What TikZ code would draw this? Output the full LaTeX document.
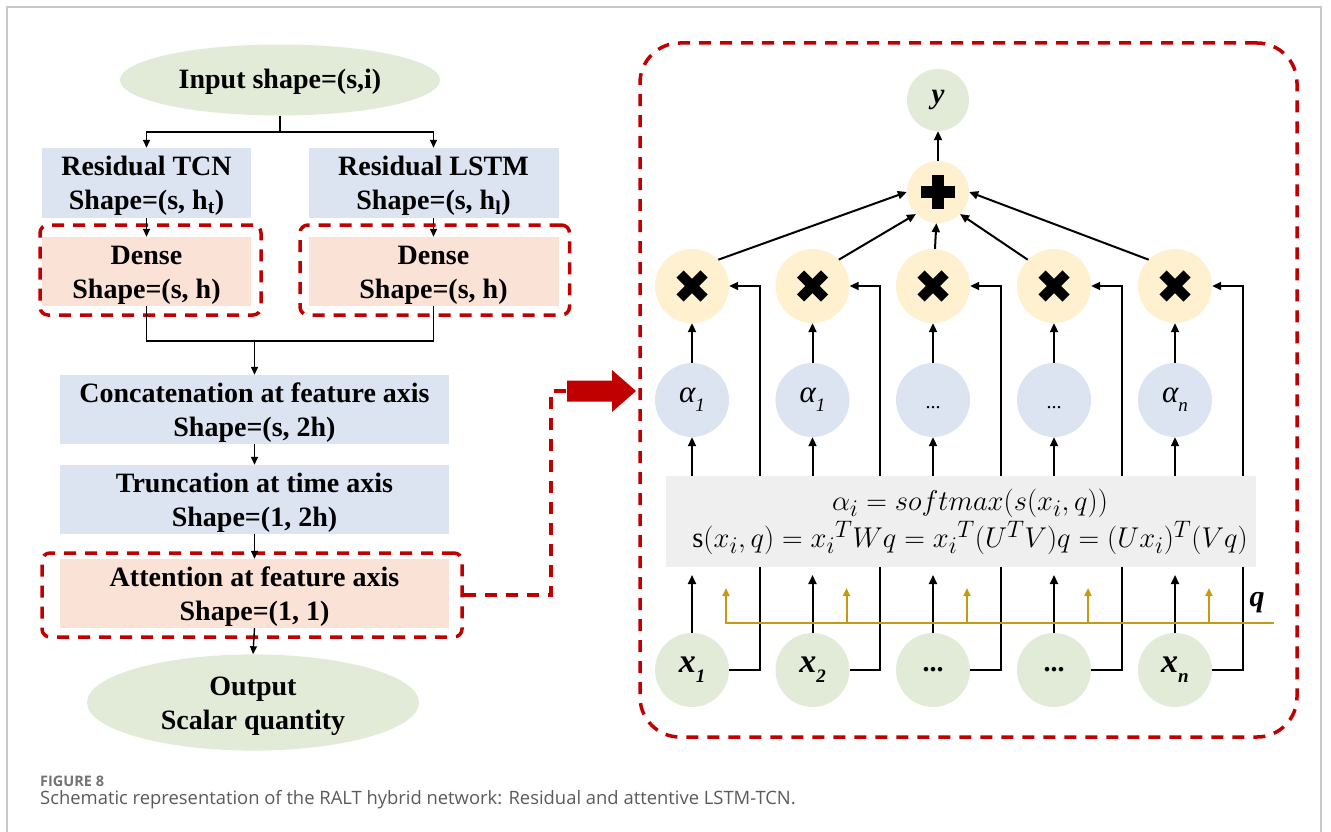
\documentclass[tikz,border=0pt]{standalone}
\usepackage{graphicx}
\usepackage{fontspec}
\setmainfont{Liberation Serif}
\newfontfamily\capfont{Open Sans}
\usetikzlibrary{arrows.meta,shapes.geometric,calc}
\definecolor{cgreen}{HTML}{E2EBD7}
\definecolor{cblue}{HTML}{DCE4F2}
\definecolor{cpink}{HTML}{FBE2D7}
\definecolor{cyel}{HTML}{FFF1CF}
\definecolor{cgray}{HTML}{EFEFEF}
\definecolor{cred}{HTML}{C00000}
\definecolor{cgold}{HTML}{C49A12}
\definecolor{cframe}{HTML}{C8C8C8}
\definecolor{ccap}{HTML}{5A5A5A}
\newcommand\lsub[1]{\raisebox{-0.3em}{\fontsize{19}{19}\selectfont #1}}
% two centred lines, nudged down a little inside their box
\newcommand\twoline[2]{\raisebox{-3pt}[\height][\depth]{\begin{tabular}{@{}c@{}}#1\\#2\end{tabular}}}
\newcommand\oneline[1]{\raisebox{-2pt}[\height][\depth]{#1}}
\tikzset{
  txt/.style={font=\fontsize{28}{34}\selectfont\bfseries, align=center, inner sep=0pt},
  bluebox/.style={txt, rectangle, fill=cblue},
  pinkbox/.style={txt, rectangle, fill=cpink},
  oval/.style={txt, ellipse, fill=cgreen},
  reddash/.style={draw=cred, line width=3.5pt, dash pattern=on 12pt off 9pt},
  lnL/.style={draw=black, line width=1.4pt},
  arrL/.style={lnL, -{Triangle[length=8pt,width=7pt]}},
  lnR/.style={draw=black, line width=2pt},
  arrR/.style={lnR, -{Triangle[length=9pt,width=8pt]}},
  goldln/.style={draw=cgold, line width=2pt},
  goldarr/.style={goldln, -{Triangle[length=8pt,width=7pt]}},
  ball/.style={circle, minimum size=74pt, inner sep=0pt},
  alphaball/.style={ball, fill=cblue, font=\fontsize{31}{31}\selectfont\itshape},
  xball/.style={ball, fill=cgreen, font=\fontsize{34}{34}\selectfont\bfseries\itshape},
  mulball/.style={ball, fill=cyel},
  symbolstroke/.style={draw=black, line cap=butt},
}
\begin{document}
\begin{tikzpicture}[x=1pt,y=-1pt]
\useasboundingbox (0,0) rectangle (1331,832);
% thin page frame
\draw[cframe, line width=1.2pt] (7,832) -- (7,7) -- (1321,7) -- (1321,832);

% ---------------- left: network pipeline ----------------
\node[oval, minimum width=320pt, minimum height=71pt] (inp) at (280,80) {\oneline{Input shape=(s,i)}};
\node[bluebox, minimum width=209pt, minimum height=70pt] (tcn) at (146.5,183) {\twoline{Residual TCN}{Shape=(s, h\textsubscript{t})}};
\node[bluebox, minimum width=250pt, minimum height=70pt] (lstm) at (433.5,183) {\twoline{Residual LSTM}{Shape=(s, h\textsubscript{l})}};
\node[pinkbox, minimum width=209pt, minimum height=69pt] (dn1) at (146.5,271.5) {\twoline{Dense}{Shape=(s, h)}};
\node[pinkbox, minimum width=250pt, minimum height=69pt] (dn2) at (433.5,271.5) {\twoline{Dense}{Shape=(s, h)}};
\node[reddash, rectangle, rounded corners=8pt, minimum width=221pt, minimum height=90pt] (dd1) at (150.5,270) {};
\node[reddash, rectangle, rounded corners=8pt, minimum width=269.5pt, minimum height=90pt] (dd2) at (434.75,270) {};
\node[bluebox, minimum width=389pt, minimum height=69pt] (cat) at (254.5,409.5) {\twoline{Concatenation at feature axis}{Shape=(s, 2h)}};
\node[bluebox, minimum width=389pt, minimum height=69pt] (trn) at (254.5,499.5) {\twoline{Truncation at time axis}{Shape=(1, 2h)}};
\node[pinkbox, minimum width=389pt, minimum height=69pt] (att) at (254.5,593.5) {\twoline{Attention at feature axis}{Shape=(1, 1)}};
\node[reddash, rectangle, rounded corners=8pt, minimum width=420pt, minimum height=84pt] (attd) at (252,595) {};
\node[oval, minimum width=332pt, minimum height=71pt] (out) at (253,702.5) {\twoline{Output}{Scalar quantity}};

\coordinate (br) at (280,132);
\draw[lnL] (inp.south) -- (br);
\draw[arrL] (br) -| (tcn.north);
\draw[arrL] (br) -| (lstm.north);
\draw[arrL] (tcn.south) -- (dn1.north);
\draw[arrL] (lstm.south) -- (dn2.north);
\coordinate (mg) at (254.5,341);
\draw[lnL] (dn1.south) |- (mg) -| (dn2.south);
\draw[arrL] (mg) -- (cat.north);
\draw[arrL] (cat.south) -- (trn.north);
\draw[arrL] (trn.south) -- (att.north);
\draw[arrL] (att.south) -- (out.north);

% ---------------- right: attention detail ----------------
\node[reddash, rectangle, rounded corners=40pt, minimum width=657pt, minimum height=694pt] (bigb) at (968.5,390) {};

% link from the attention block to the detail panel
\coordinate (lk) at (551,391);
\coordinate (ra) at (567,391);
\draw[reddash] (attd.east) -| (lk) -- (ra);
\fill[cred] (ra) ++(0,-10.5) -- ++(45,0) -- ++(0,-10.5) -- (636,391) -- (612,412) -- (612,401.5) -- (567,401.5) -- cycle;

\node[ball, minimum size=62pt, fill=cgreen, font=\fontsize{29}{29}\selectfont\bfseries\itshape] (yy) at (938,100) {y};
\node[ball, minimum size=62pt, fill=cyel] (pl) at (938,192) {};

\foreach \i/\xx in {1/692,2/812.5,3/933,4/1054,5/1175}{
  \node[mulball] (m\i) at (\xx,286) {};
  \draw[symbolstroke, line width=10pt] ($(m\i)+(-12,-12)$) -- ($(m\i)+(12,12)$);
  \draw[symbolstroke, line width=10pt] ($(m\i)+(-12,12)$) -- ($(m\i)+(12,-12)$);
}
\draw[symbolstroke, line width=12.5pt] ($(pl)+(-17,0)$) -- ($(pl)+(17,0)$);
\draw[symbolstroke, line width=12.5pt] ($(pl)+(0,-17)$) -- ($(pl)+(0,17)$);

\node[alphaball] (a1) at (692,400) {α\lsub{1}};
\node[alphaball] (a2) at (812.5,400) {α\lsub{1}};
\node[alphaball, font=\fontsize{20}{20}\selectfont] (a3) at (933,400) {\raisebox{-8pt}[0pt][0pt]{...}};
\node[alphaball, font=\fontsize{20}{20}\selectfont] (a4) at (1054,400) {\raisebox{-8pt}[0pt][0pt]{...}};
\node[alphaball] (a5) at (1175,400) {α\lsub{n}};

\node[xball] (x1) at (692,670) {x\lsub{1}};
\node[xball] (x2) at (812.5,670) {x\lsub{2}};
\node[xball, font=\fontsize{28}{28}\selectfont\bfseries] (x3) at (933,670) {...};
\node[xball, font=\fontsize{28}{28}\selectfont\bfseries] (x4) at (1054,670) {...};
\node[xball] (x5) at (1175,670) {x\lsub{n}};

% skip paths from each input to its product node (pass behind the score box)
\foreach \i in {1,...,5}{
  \draw[arrR] (x\i.east) -- ++(30.5,0) |- (m\i.east);
}

% score box
\node[rectangle, fill=cgray, minimum width=590pt, minimum height=91pt, inner sep=0pt] (sb) at (961,521.5) {};
\node[inner sep=0pt] (eq) at (970,522.5)
  {\scalebox{1.15}{\fontsize{24.88}{29.5}\selectfont
   \begin{tabular}{@{}c@{}}
   $\alpha_i = softmax(s(x_i,q))$\\
   $\mathrm{s}(x_i,q) = x_i{}^{T}Wq = x_i{}^{T}(U^{T}V)q = (Ux_i)^{T}(Vq)$
   \end{tabular}}};

\coordinate (sbb) at (0,575);
\foreach \i in {1,...,5}{
  \draw[arrR] (x\i.north) -- (x\i.north |- sbb);
  \draw[arrR] (a\i.south |- sb.north) -- (a\i.south);
  \draw[arrR] (a\i) -- (m\i);
}

\draw[arrR] (m1.45) -- (pl.180);
\draw[arrR] (m2.45) -- (pl.225);
\draw[arrR] (m3) -- (pl);
\draw[arrR] (m4.135) -- (pl.315);
\draw[arrR] (m5.135) -- (pl.0);
\draw[arrR] (pl) -- (yy);

% query line
\coordinate (qs) at (725,623);
\coordinate (qe) at (1274,623);
\draw[goldln] (qs) -- (qe);
\foreach \i in {1,...,5}{
  \draw[goldarr] ($(x\i)+(34,-47)$) -- ($(x\i)+(34,-82)$);
}
\node[font=\fontsize{30}{30}\selectfont\bfseries\itshape] (ql) at (1257,603) {q};

% caption
\node[anchor=west, inner sep=0pt, font=\capfont\bfseries\fontsize{14.5}{14.5}\selectfont, text=ccap!85] (fig) at (40,781) {FIGURE 8};
\node[anchor=west, inner sep=0pt, font=\capfont\fontsize{18.4}{18.4}\selectfont, text=ccap] (cap) at (40,800) {Schematic representation of the RALT hybrid network: Residual and attentive LSTM-TCN.};
\end{tikzpicture}
\end{document}
